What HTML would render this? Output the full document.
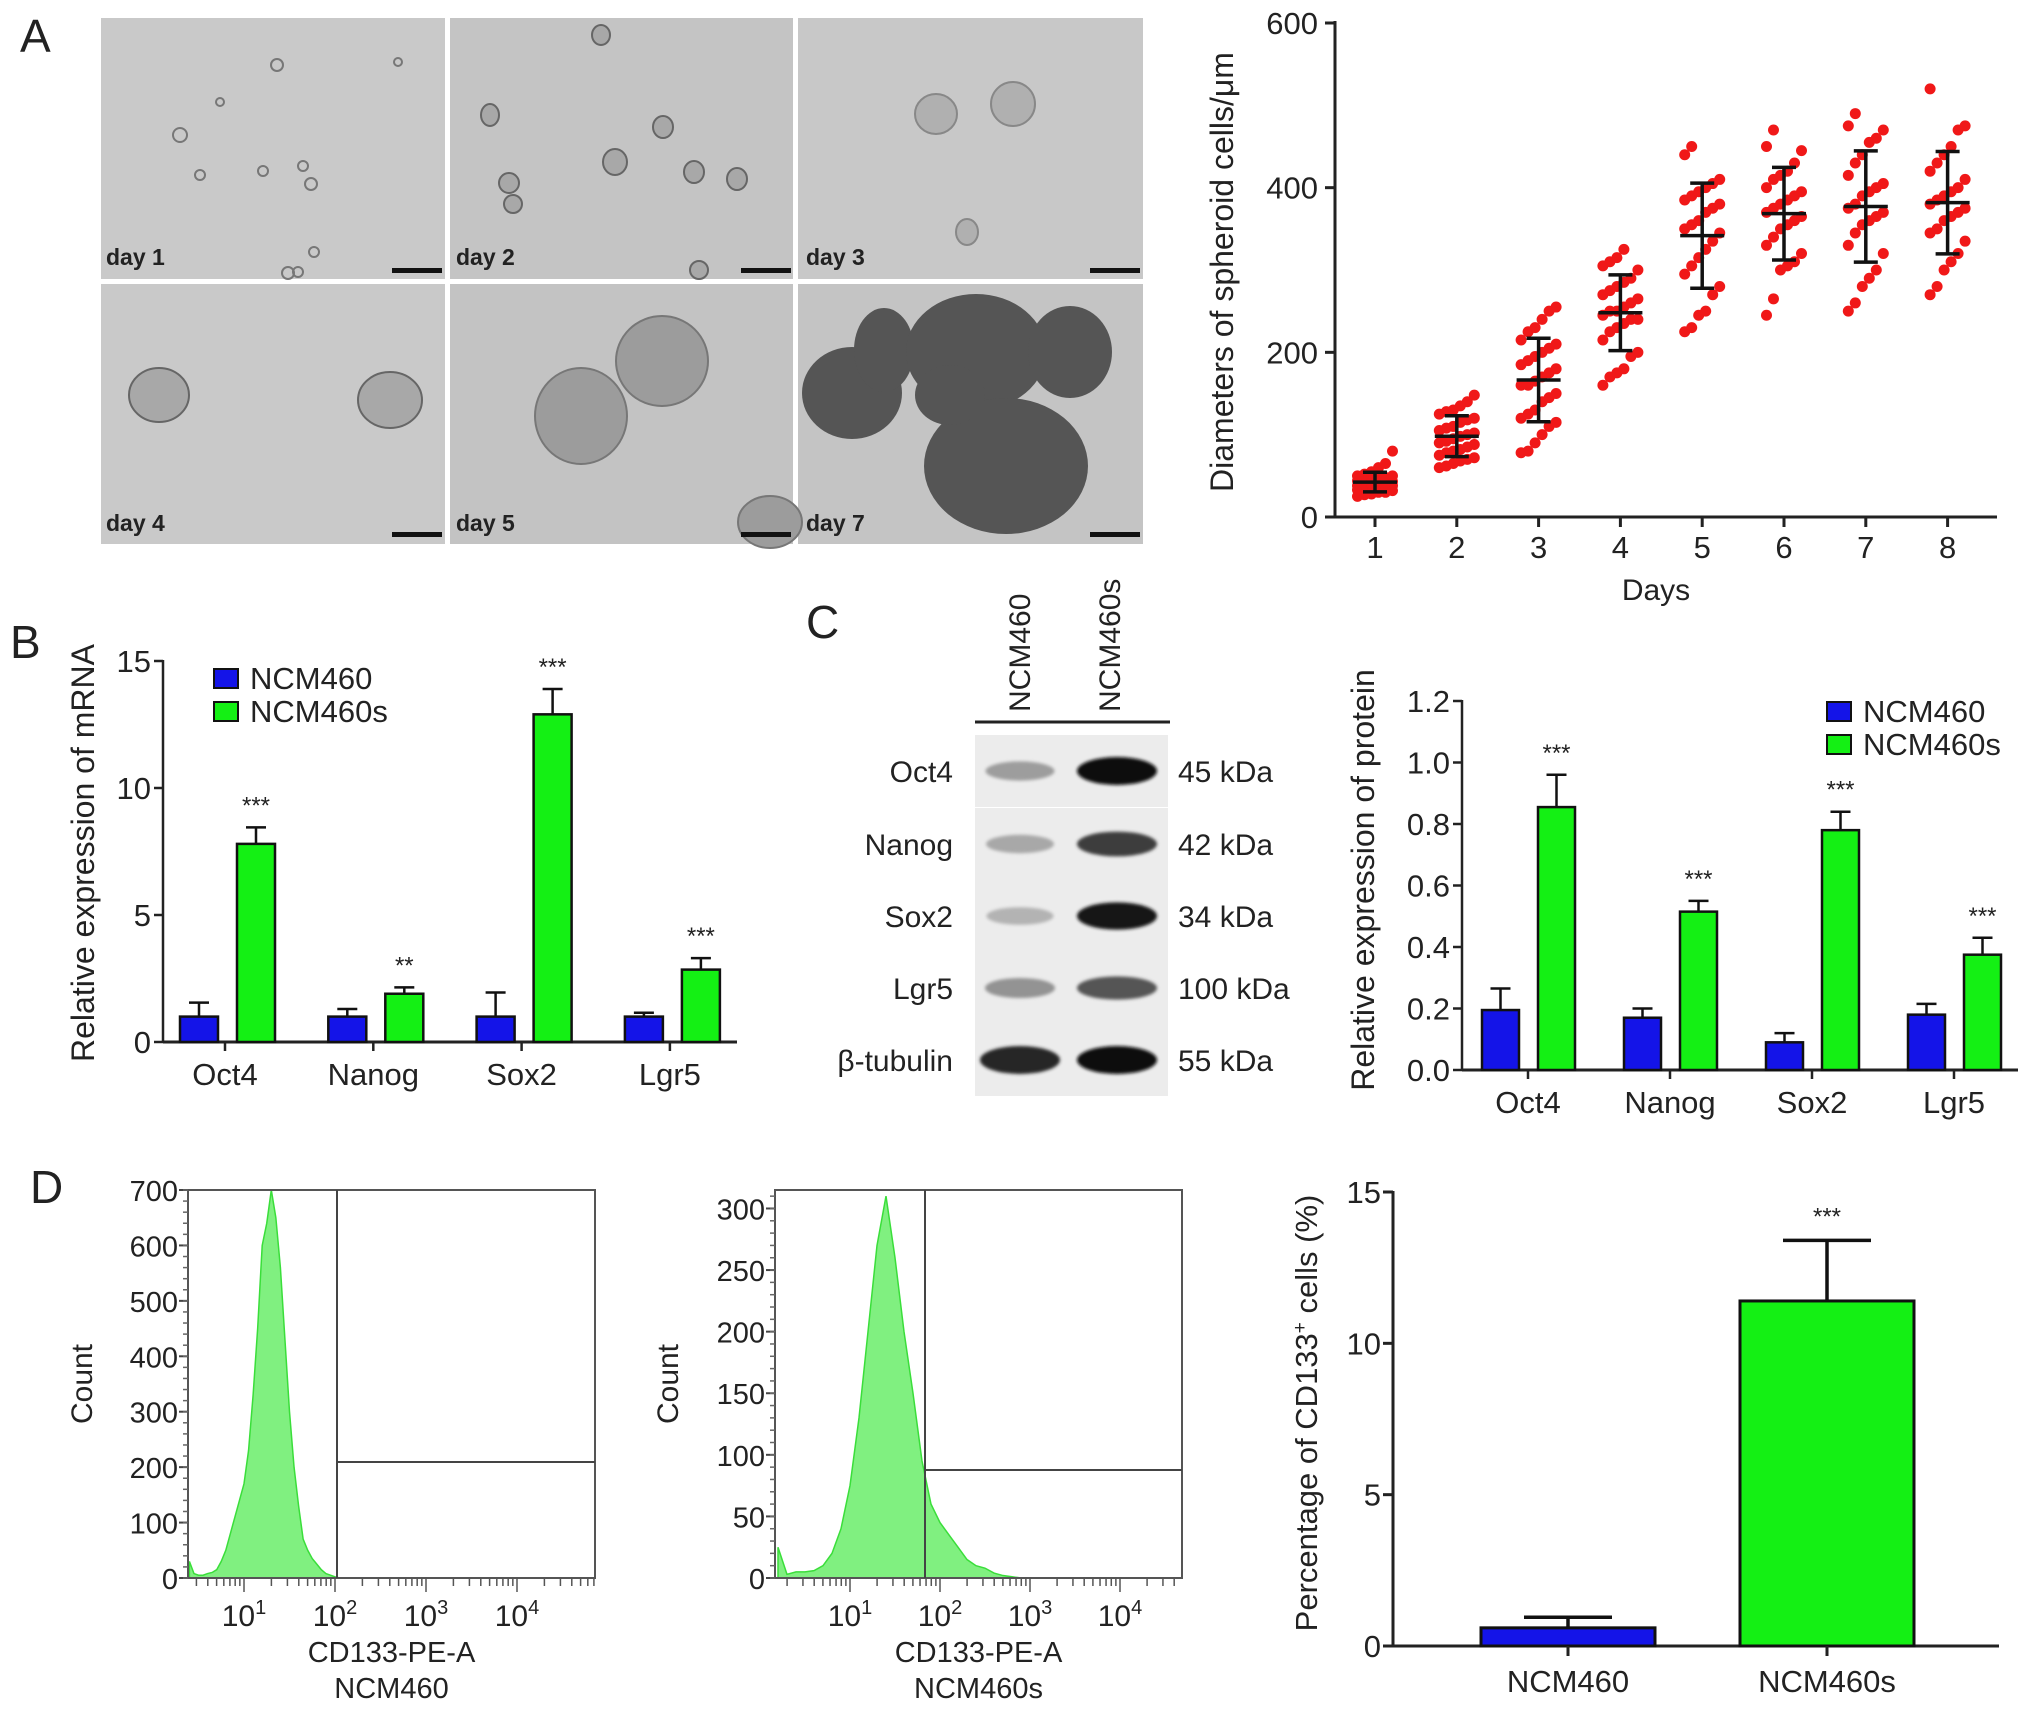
<!DOCTYPE html>
<html><head><meta charset="utf-8"><style>
html,body{margin:0;padding:0;background:#fff;}
svg text{font-family:"Liberation Sans",Arial,sans-serif;fill:#222;}
</style></head><body>
<svg id="fig" xmlns="http://www.w3.org/2000/svg" width="2032" height="1712" viewBox="0 0 2032 1712">
<defs>
<filter id="blur4" x="-50%" y="-50%" width="200%" height="200%"><feGaussianBlur stdDeviation="5"/></filter>
<filter id="blur2" x="-50%" y="-50%" width="200%" height="200%"><feGaussianBlur stdDeviation="1.5"/></filter>
</defs>
<rect x="0" y="0" width="2032" height="1712" fill="#fff"/>
<!-- Panel labels -->
<text x="20" y="52" font-size="46">A</text>
<text x="10" y="658" font-size="46">B</text>
<text x="806" y="638" font-size="46">C</text>
<text x="30" y="1203" font-size="46">D</text>

<!-- Microscopy images -->
<g id="micro">
<rect x="101" y="18" width="344" height="261" fill="#c9c9c9"/>
<rect x="450" y="18" width="343" height="261" fill="#c4c4c4"/>
<rect x="798" y="18" width="345" height="261" fill="#c8c8c8"/>
<rect x="101" y="284" width="344" height="260" fill="#c9c9c9"/>
<rect x="450" y="284" width="343" height="260" fill="#c3c3c3"/>
<rect x="798" y="284" width="345" height="260" fill="#c4c4c4"/>
<g fill="none" stroke="#777" stroke-width="2">
<circle cx="277" cy="65" r="6"/><circle cx="180" cy="135" r="7"/><circle cx="220" cy="102" r="4"/><circle cx="263" cy="171" r="5"/><circle cx="303" cy="166" r="5"/><circle cx="311" cy="184" r="6"/><circle cx="200" cy="175" r="5"/><circle cx="398" cy="62" r="4"/><circle cx="314" cy="252" r="5"/><circle cx="288" cy="273" r="6"/><circle cx="298" cy="272" r="5"/>
</g>
<g fill="#a8a8a8" stroke="#666" stroke-width="2">
<ellipse cx="490" cy="115" rx="9" ry="11"/><ellipse cx="663" cy="127" rx="10" ry="11"/><ellipse cx="615" cy="162" rx="12" ry="13"/><ellipse cx="694" cy="172" rx="10" ry="11"/><ellipse cx="737" cy="179" rx="10" ry="11"/><ellipse cx="509" cy="183" rx="10" ry="10"/><ellipse cx="513" cy="204" rx="9" ry="9"/><ellipse cx="601" cy="35" rx="9" ry="10"/><ellipse cx="699" cy="270" rx="9" ry="9"/>
</g>
<g fill="#b0b0b0" stroke="#888" stroke-width="2">
<ellipse cx="936" cy="114" rx="21" ry="20"/><ellipse cx="1013" cy="104" rx="22" ry="22"/><ellipse cx="967" cy="232" rx="11" ry="13"/>
</g>
<g fill="#a8a8a8" stroke="#666" stroke-width="2">
<ellipse cx="159" cy="395" rx="30" ry="27"/><ellipse cx="390" cy="400" rx="32" ry="28"/>
</g>
<g fill="#9c9c9c" stroke="#777" stroke-width="2">
<ellipse cx="581" cy="416" rx="46" ry="48"/><ellipse cx="662" cy="361" rx="46" ry="45"/><ellipse cx="770" cy="522" rx="32" ry="26"/>
</g>
<g fill="#555">
<ellipse cx="852" cy="393" rx="50" ry="46"/><ellipse cx="884" cy="350" rx="30" ry="42"/><ellipse cx="976" cy="352" rx="70" ry="58"/><ellipse cx="1070" cy="352" rx="42" ry="46"/><ellipse cx="1006" cy="466" rx="82" ry="68"/><ellipse cx="950" cy="395" rx="35" ry="30"/>
</g>
<g font-size="23" font-weight="bold">
<text x="106" y="265">day 1</text>
<text x="456" y="265">day 2</text>
<text x="806" y="265">day 3</text>
<text x="106" y="531">day 4</text>
<text x="456" y="531">day 5</text>
<text x="806" y="531">day 7</text>
</g>
<g fill="#111">
<rect x="392" y="268" width="50" height="5"/><rect x="741" y="268" width="50" height="5"/><rect x="1090" y="268" width="50" height="5"/>
<rect x="392" y="532" width="50" height="5"/><rect x="741" y="532" width="50" height="5"/><rect x="1090" y="532" width="50" height="5"/>
</g>
</g>

<!-- Western blot -->
<g id="blot">
<line x1="975" y1="722" x2="1170" y2="722" stroke="#222" stroke-width="3"/>
<text transform="translate(1030,712) rotate(-90)" font-size="30">NCM460</text>
<text transform="translate(1120,712) rotate(-90)" font-size="30">NCM460s</text>
</g>

<g id="charts"></g>
</svg>
<script>
// ===== Data: Panel A scatter =====
const spheroidDays = [1,2,3,4,5,6,7,8];
const day1Diam = [80,65,60,55,52,50,48,47,45,44,43,42,40,40,38,37,36,35,35,33,32,30,30,28,27,25,38,42,46,50];
const day2Diam = [148,140,135,130,128,125,120,118,115,110,108,105,102,100,98,95,92,90,88,85,82,80,78,75,72,70,68,65,62,60];
const day3Diam = [255,250,240,230,225,215,210,200,195,190,185,180,175,170,165,160,150,145,140,130,125,120,110,100,90,80,78,205,160,115];
const day4Diam = [325,315,310,305,300,290,285,275,270,265,260,255,250,245,240,235,230,225,215,200,195,180,175,170,160,250,240,280];
const day5Diam = [450,440,410,405,400,395,390,380,375,370,360,350,345,335,325,315,305,295,280,270,250,245,230,225,385,355];
const day6Diam = [470,450,445,430,420,415,410,400,395,390,380,375,370,365,355,350,340,330,320,310,305,300,265,245,385,360];
const day7Diam = [490,475,470,460,455,440,430,415,405,400,390,380,375,370,360,355,345,330,320,300,290,280,260,250,395,365];
const day8Diam = [520,475,470,450,440,430,420,410,400,395,390,380,375,365,360,350,345,335,320,310,300,280,270,385,370];
const spheroidSeries = [day1Diam,day2Diam,day3Diam,day4Diam,day5Diam,day6Diam,day7Diam,day8Diam];
const spheroidYTicks = [0,200,400,600];

// ===== Data: Panel B mRNA =====
const mrnaGenes = ["Oct4","Nanog","Sox2","Lgr5"];
const mrnaNCM460 = [1.0,1.0,1.0,1.0];
const mrnaNCM460Err = [0.55,0.3,0.95,0.15];
const mrnaNCM460s = [7.8,1.9,12.9,2.85];
const mrnaNCM460sErr = [0.65,0.25,1.0,0.45];
const mrnaStars = ["***","**","***","***"];
const mrnaYTicks = [0,5,10,15];

// ===== Data: Panel C protein =====
const protGenes = ["Oct4","Nanog","Sox2","Lgr5"];
const protNCM460 = [0.195,0.17,0.09,0.18];
const protNCM460Err = [0.07,0.03,0.03,0.035];
const protNCM460s = [0.855,0.515,0.78,0.375];
const protNCM460sErr = [0.105,0.035,0.06,0.055];
const protStars = ["***","***","***","***"];
const protYTicks = [0,0.2,0.4,0.6,0.8,1.0,1.2];
const blotProteins = ["Oct4","Nanog","Sox2","Lgr5","β-tubulin"];
const blotSizes = ["45 kDa","42 kDa","34 kDa","100 kDa","55 kDa"];
const blotLane1Intensity = [0.45,0.4,0.35,0.5,1.0];
const blotLane2Intensity = [1.0,0.8,0.95,0.7,1.0];

// ===== Data: Panel D flow =====
const flow1LogStart = 0.4;
const flow1Counts = [30,8,5,5,8,10,15,30,50,80,110,140,170,230,330,450,600,640,700,650,560,430,300,200,130,70,50,35,25,15,8,5,2,0,0];
const flow1YTicks = [0,100,200,300,400,500,600,700];
const flow2LogStart = 0.2;
const flow2Counts = [25,3,5,5,6,10,20,40,75,130,200,270,310,260,200,150,95,60,45,35,25,15,10,8,4,2,1,0,0];
const flow2YTicks = [0,50,100,150,200,250,300];
const flowXTicks = ["1","2","3","4"];
const cd133Groups = ["NCM460","NCM460s"];
const cd133Values = [0.6,11.4];
const cd133Err = [0.35,2.0];
const cd133YTicks = [0,5,10,15];

const NS="http://www.w3.org/2000/svg";
const root=document.getElementById('charts');
const BLUE="#1414e8", GREEN="#14f014";
function mk(tag,attrs,parent){const e=document.createElementNS(NS,tag);for(const k in attrs)e.setAttribute(k,attrs[k]);(parent||root).appendChild(e);return e;}
function tx(x,y,s,attrs,parent){const e=mk('text',Object.assign({x:x,y:y},attrs||{}),parent);e.textContent=s;return e;}

// ===== Panel A scatter =====
(function(){
  const g=mk('g',{});
  
  
  const yA=v=>517-(v/600)*494;
  const xA=d=>1375+(d-1)*81.8;
  const ax=mk('line',{x1:1335,y1:21,x2:1335,y2:518,stroke:'#222','stroke-width':3},g);
  
  
  const xx=mk('line',{x1:1334,y1:517,x2:1997,y2:517,stroke:'#222','stroke-width':3},g);
  
  
  spheroidYTicks.forEach(t=>{
    const l=mk('line',{x1:1325,x2:1335,y1:yA(t),y2:yA(t),stroke:'#222','stroke-width':3},g);
    
    
    const s=tx(1318,yA(t)+11,String(t),{'font-size':31,'text-anchor':'end'},g);
    
    
  });
  spheroidDays.forEach((d,i)=>{
    const l=mk('line',{x1:xA(d),x2:xA(d),y1:517,y2:527,stroke:'#222','stroke-width':3},g);
    
    
    const s=tx(xA(d),558,String(d),{'font-size':31,'text-anchor':'middle'},g);
    
    
    const vals=spheroidSeries[i].slice().sort((a,b)=>a-b);
    vals.forEach((v,j)=>{
      const off=((j%6)-2.5)*7;
      const c=mk('circle',{cx:xA(d)+off,cy:yA(v),r:5.5,fill:'#f01818'},g);
      
      
    });
    const n=vals.length, mean=vals.reduce((a,b)=>a+b,0)/n;
    const sd=Math.sqrt(vals.reduce((a,b)=>a+(b-mean)*(b-mean),0)/(n-1));
    const eb=mk('path',{d:`M${xA(d)},${yA(mean-sd)}V${yA(mean+sd)}M${xA(d)-12},${yA(mean-sd)}h24M${xA(d)-12},${yA(mean+sd)}h24M${xA(d)-22},${yA(mean)}h44`,stroke:'#111','stroke-width':3.5,fill:'none'},g);
    
    
  });
  const t1=tx(0,0,'Diameters of spheroid cells/μm',{'font-size':32,'text-anchor':'middle',transform:'translate(1233,272) rotate(-90)'},g);
  
  
  const t2=tx(1656,600,'Days',{'font-size':30,'text-anchor':'middle'},g);
  
  
})();

// ===== generic grouped bar chart =====
function groupedBars(o){
  const g=mk('g',{});
  
  
  const y=v=>o.y0-(v/o.ymax)*(o.y0-o.ytop);
  const ax=mk('line',{x1:o.ax,y1:o.ytop-1,x2:o.ax,y2:o.y0,stroke:'#222','stroke-width':2.5},g);
  
  
  const xx=mk('line',{x1:o.ax,y1:o.y0,x2:o.xend,y2:o.y0,stroke:'#222','stroke-width':3},g);
  
  
  o.ticks.forEach(t=>{
    const l=mk('line',{x1:o.ax-9,x2:o.ax,y1:y(t),y2:y(t),stroke:'#222','stroke-width':2.5},g);
    
    
    const s=tx(o.ax-12,y(t)+11,o.fmt(t),{'font-size':31,'text-anchor':'end'},g);
    
    
  });
  o.cats.forEach((c,i)=>{
    const cx=o.cx[0]+i*o.cstep;
    const tk=mk('line',{x1:cx,x2:cx,y1:o.y0,y2:o.y0+9,stroke:'#222','stroke-width':2.5},g);
    
    
    const s=tx(cx,o.y0+43,c,{'font-size':31,'text-anchor':'middle'},g);
    
    
    [[o.a,o.aErr,BLUE,o.bOff[0]],[o.b,o.bErr,GREEN,o.bOff[1]]].forEach((sr,k)=>{
      const x0=cx+sr[3], w=o.bw, v=sr[0][i], e=sr[1][i];
      const eb=mk('path',{d:`M${x0+w/2},${y(v)}V${y(v+e)}M${x0+w/2-10},${y(v+e)}h20`,stroke:'#111','stroke-width':2.5,fill:'none'},g);
      
      
      const r=mk('rect',{x:x0,y:y(v),width:w,height:o.y0-y(v),fill:sr[2],stroke:'#111','stroke-width':2.5},g);
      
      
      if(k===1){
        const st=tx(x0+w/2,y(v+e)-14,o.stars[i],{'font-size':24,'text-anchor':'middle'},g);
        
        
      }
    });
  });
  const t=tx(0,0,o.title,{'font-size':32,'text-anchor':'middle',transform:`translate(${o.tx},${o.ty}) rotate(-90)`},g);
  
  
  const L=o.leg;
  const b1=mk('rect',{x:L[0],y:L[1],width:24,height:19,fill:BLUE,stroke:'#111','stroke-width':2},g);
  
  
  const b2=mk('rect',{x:L[0],y:L[1]+33,width:24,height:19,fill:GREEN,stroke:'#111','stroke-width':2},g);
  
  
  const l1=tx(L[0]+36,L[1]+20,'NCM460',{'font-size':31},g);
  
  
  const l2=tx(L[0]+36,L[1]+53,'NCM460s',{'font-size':31},g);
  
  
}
groupedBars({name:'mrna-expression-chart',ax:163,ytop:661,y0:1042,ymax:15,xend:737,ticks:mrnaYTicks,fmt:t=>String(t),
  cats:mrnaGenes,cx:[225],cstep:148.3,bw:38,bOff:[-45,12],a:mrnaNCM460,aErr:mrnaNCM460Err,b:mrnaNCM460s,bErr:mrnaNCM460sErr,stars:mrnaStars,
  title:'Relative expression of mRNA',tx:94,ty:853,leg:[214,669]});
groupedBars({name:'protein-expression-chart',ax:1462,ytop:701,y0:1070,ymax:1.2,xend:2018,ticks:protYTicks,fmt:t=>t.toFixed(1),
  cats:protGenes,cx:[1528],cstep:142,bw:37,bOff:[-46,10],a:protNCM460,aErr:protNCM460Err,b:protNCM460s,bErr:protNCM460sErr,stars:protStars,
  title:'Relative expression of protein',tx:1374,ty:880,leg:[1827,702]});

// ===== Western blot rows =====
(function(){
  const g=document.querySelector('#blot');
  const rowY=[771,844,916,988,1060];
  blotProteins.forEach((p,i)=>{
    const cy=rowY[i];
    const bg=mk('rect',{x:975,y:cy-36,width:193,height:72,fill:'#ececec'},g);
    
    
    const g1=Math.round(255*(1-blotLane1Intensity[i]*0.85));
    const g2=Math.round(255*(1-blotLane2Intensity[i]*0.95));
    const h1=6+blotLane1Intensity[i]*8, h2=6+blotLane2Intensity[i]*8;
    const e1=mk('ellipse',{cx:1020,cy:cy,rx:30+blotLane1Intensity[i]*10,ry:h1,fill:`rgb(${g1},${g1},${g1})`,filter:'url(#blur2)'},g);
    
    
    const e2=mk('ellipse',{cx:1117,cy:cy,rx:40,ry:h2,fill:`rgb(${g2},${g2},${g2})`,filter:'url(#blur2)'},g);
    
    
    const l=tx(953,cy+11,p,{'font-size':30,'text-anchor':'end'},g);
    
    
    const k=tx(1178,cy+11,blotSizes[i],{'font-size':30},g);
    
    
  });
})();

// ===== Flow histograms =====
function flowPlot(o){
  const g=mk('g',{});
  
  
  const x=l=>o.x10+(l-1)*o.dec;
  const y=v=>o.y0-(v/o.ymax)*(o.y0-o.ytop);
  let d=`M${x(o.logStart)},${o.y0}`;
  o.counts.forEach((c,i)=>{d+=`L${x(o.logStart+i*o.step)},${y(c)}`;});
  d+=`L${x(o.logStart+(o.counts.length-1)*o.step)},${o.y0}Z`;
  const h=mk('path',{d:d,fill:'#80f080',stroke:'#3ade3a','stroke-width':1.5},g);
  
  
  const box=mk('rect',{x:o.bx[0],y:o.ytop,width:o.bx[1]-o.bx[0],height:o.y0-o.ytop,fill:'none',stroke:'#555','stroke-width':2},g);
  
  
  const gate=mk('path',{d:`M${o.gx},${o.ytop}V${o.y0}M${o.gx},${o.gy}H${o.bx[1]}`,stroke:'#444','stroke-width':2,fill:'none'},g);
  
  
  o.ticks.forEach(t=>{
    const l=mk('line',{x1:o.bx[0]-9,x2:o.bx[0],y1:y(t),y2:y(t),stroke:'#444','stroke-width':2},g);
    
    
    const s=tx(o.bx[0]-10,y(t)+11,String(t),{'font-size':29,'text-anchor':'end'},g);
    
    
  });
  for(let v=0;v<=o.ymax;v+=o.minor){
    const m=mk('line',{x1:o.bx[0]-5,x2:o.bx[0],y1:y(v),y2:y(v),stroke:'#666','stroke-width':1.5},g);
    
    
  }
  for(let dcd=0;dcd<=4;dcd++){
    for(let k=1;k<10;k++){
      const lx=x(dcd+Math.log10(k));
      if(lx<o.bx[0]||lx>o.bx[1]) continue;
      const m=mk('line',{x1:lx,x2:lx,y1:o.y0,y2:o.y0+(k===1?14:8),stroke:'#555','stroke-width':1.5},g);
      
      
    }
  }
  flowXTicks.forEach(e=>{
    const t=mk('text',{x:x(+e),y:o.y0+48,'font-size':30,'text-anchor':'middle'},g);
    
    
    t.textContent='10';
    const sp=document.createElementNS(NS,'tspan');
    sp.setAttribute('dy','-12');
    sp.setAttribute('font-size','20');
    sp.textContent=e;
    t.appendChild(sp);
  });
  const c=tx(0,0,'Count',{'font-size':30,'text-anchor':'middle',transform:`translate(${o.cx},${(o.ytop+o.y0)/2}) rotate(-90)`},g);
  
  
  const a=tx((o.bx[0]+o.bx[1])/2,1662,'CD133-PE-A',{'font-size':29,'text-anchor':'middle'},g);
  
  
  const b=tx((o.bx[0]+o.bx[1])/2,1698,o.sample,{'font-size':29,'text-anchor':'middle'},g);
  
  
}
flowPlot({name:'flow-histogram-ncm460',counts:flow1Counts,logStart:flow1LogStart,step:0.05,x10:244,dec:91,y0:1578,ytop:1190,ymax:700,
  bx:[188,595],gx:337,gy:1462,ticks:flow1YTicks,minor:20,cx:92,sample:'NCM460'});
flowPlot({name:'flow-histogram-ncm460s',counts:flow2Counts,logStart:flow2LogStart,step:0.1,x10:850,dec:90,y0:1578,ytop:1190,ymax:315,
  bx:[775,1182],gx:925,gy:1470,ticks:flow2YTicks,minor:10,cx:678,sample:'NCM460s'});

// ===== CD133 bar chart =====
(function(){
  const g=mk('g',{});
  
  
  const y=v=>1646-(v/15)*454;
  const AX=1393;
  const ax=mk('line',{x1:AX,y1:1191,x2:AX,y2:1646,stroke:'#222','stroke-width':3},g);
  
  
  const xx=mk('line',{x1:AX,y1:1646,x2:1999,y2:1646,stroke:'#222','stroke-width':3},g);
  
  
  cd133YTicks.forEach(t=>{
    const l=mk('line',{x1:AX-10,x2:AX,y1:y(t),y2:y(t),stroke:'#222','stroke-width':3},g);
    
    
    const s=tx(AX-12,y(t)+11,String(t),{'font-size':31,'text-anchor':'end'},g);
    
    
  });
  const cxs=[1568,1827], cols=[BLUE,GREEN];
  cd133Groups.forEach((c,i)=>{
    const cx=cxs[0]+i*(cxs[1]-cxs[0]);
    const v=cd133Values[i], e=cd133Err[i];
    const eb=mk('path',{d:`M${cx},${y(v)}V${y(v+e)}M${cx-44},${y(v+e)}h88`,stroke:'#111','stroke-width':3.5,fill:'none'},g);
    
    
    const r=mk('rect',{x:cx-87,y:y(v),width:174,height:1646-y(v),fill:cols[i],stroke:'#111','stroke-width':3},g);
    
    
    const tk=mk('line',{x1:cx,x2:cx,y1:1646,y2:1656,stroke:'#222','stroke-width':3},g);
    
    
    const s=tx(cx,1692,c,{'font-size':31,'text-anchor':'middle'},g);
    
    
    if(i===1){
      const st=tx(cx,y(v+e)-16,'***',{'font-size':24,'text-anchor':'middle'},g);
      
      
    }
  });
  const t=mk('text',{'font-size':31,'text-anchor':'middle',transform:'translate(1317,1413) rotate(-90)'},g);
  
  
  t.textContent='Percentage of CD133';
  const sp=document.createElementNS(NS,'tspan');
  sp.setAttribute('dy','-11');
  sp.setAttribute('font-size','19');
  sp.textContent='+';
  t.appendChild(sp);
  const sp2=document.createElementNS(NS,'tspan');
  sp2.setAttribute('dy','11');
  sp2.textContent=' cells (%)';
  t.appendChild(sp2);
})();
</script>
</body></html>
